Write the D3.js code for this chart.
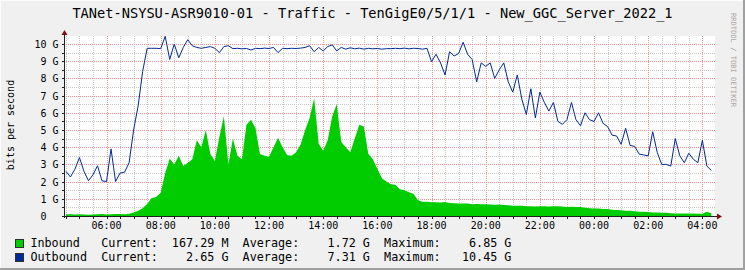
<!DOCTYPE html>
<html><head><meta charset="utf-8">
<script src="https://cdn.jsdelivr.net/npm/d3@7"></script>
<style>
html,body{margin:0;padding:0;background:#F0F0F0;}
svg{display:block;}
text{font-family:"DejaVu Sans Mono",monospace;}
.pre{white-space:pre;}
</style></head><body>
<svg id="c" width="745" height="270"></svg>
<script>
const title = "TANet-NSYSU-ASR9010-01 - Traffic - TenGigE0/5/1/1 - New_GGC_Server_2022_1";
const yAxisLabel = "bits per second";
const watermark = "RRDTOOL / TOBI OETIKER";
const windowStart = new Date(2023, 0, 1, 4, 28);
const windowEnd = new Date(2023, 0, 2, 4, 28);
const sampleStart = new Date(2023, 0, 1, 4, 30);
const stepMinutes = 10;

// Gbit/s, one sample every 10 minutes from 04:30
const inbound = [
 0.08,0.12,0.09,0.1,0.08,0.07,0.08,0.1,0.12,0.09,0.1,0.11,0.12,0.1,0.13,
 0.2,0.3,0.45,0.7,1.05,1.1,1.35,
 2.5,3.35,3.0,3.5,2.9,3.1,3.3,4.4,4.0,5.0,3.6,3.2,4.6,5.8,3.0,
 4.5,3.5,3.3,5.3,5.6,5.1,3.6,3.5,3.45,4.0,4.55,4.0,3.55,3.5,3.7,4.15,5.0,5.7,6.85,4.2,3.8,4.4,5.8,6.5,4.3,4.0,3.7,4.5,5.3,5.2,3.6,3.3,2.75,2.2,2.0,1.85,
 1.82,1.55,1.5,1.38,1.3,0.92,0.83,0.83,0.8,0.8,0.78,0.82,0.76,0.74,0.72,0.73,0.72,0.69,0.7,0.68,0.69,0.67,0.66,0.67,0.64,0.63,0.6,0.6,0.59,0.56,0.57,0.55,0.56,0.57,0.55,0.56,
 0.56,0.55,0.52,0.54,0.53,0.52,0.48,0.45,0.44,0.43,0.41,0.41,0.36,0.35,0.33,0.31,0.3,0.27,0.25,0.25,0.23,0.21,0.2,0.19,0.19,0.16,0.15,0.15,0.15,0.15,0.15,0.13,0.13,0.25,0.167
];
const outbound = [
 2.6,2.27,2.72,3.4,2.6,2.05,2.4,2.92,2.05,2.0,3.9,2.0,2.5,2.55,3.1,5.0,6.4,8.4,9.75,9.75,
 9.75,9.73,10.45,9.1,10.0,9.2,9.8,10.25,9.9,9.8,9.75,9.8,9.85,9.75,9.5,9.85,9.9,
 9.73,9.75,9.72,9.74,9.65,9.75,9.73,9.76,9.74,9.8,9.5,9.75,9.73,9.75,9.74,9.76,9.8,9.9,9.55,9.8,
 9.6,9.85,9.95,9.6,9.8,9.7,9.78,9.72,9.76,9.7,9.75,9.72,9.74,9.7,9.73,9.73,
 9.75,9.73,9.76,9.72,9.75,9.74,9.7,9.75,8.97,9.4,8.9,8.2,9.55,9.3,9.45,10.1,9.4,9.1,7.8,8.9,
 8.7,8.9,8.0,8.5,8.9,7.8,7.2,8.2,6.8,5.9,7.4,5.7,7.2,6.6,6.1,6.6,
 5.5,5.33,5.6,6.6,5.6,5.25,6.0,5.6,5.5,6.0,5.39,5.2,4.7,4.65,4.17,5.1,4.1,4.05,3.6,3.55,
 3.5,4.9,3.7,3.0,3.0,2.9,4.5,3.5,3.1,3.65,3.3,3.1,4.4,2.9,2.65
];

const yTickValues = [0,1,2,3,4,5,6,7,8,9,10];
const yTickLabels = ["0  ","1 G","2 G","3 G","4 G","5 G","6 G","7 G","8 G","9 G","10 G"];
const legendNames = ["Inbound","Outbound"];
const legendColors = ["#00CC00","#002A97"];
const legendCurrent = ["167.29 M","2.65 G"];
const legendAverage = ["1.72 G","7.31 G"];
const legendMaximum = ["6.85 G","10.45 G"];

(function () {
const svg = d3.select("#c");
const W = 745, H = 270;
const pL = 65, pR = 715, pT = 36, pB = 216;

const x = d3.scaleTime().domain([windowStart, windowEnd]).range([pL, pR]);
const y = d3.scaleLinear().domain([0, 10]).range([pB, 44]);

const times = inbound.map((_, i) => d3.timeMinute.offset(sampleStart, i * stepMinutes));

// dotted patterns (pixel exact)
const minorColor = "#C8C8C8", majorColor = "#F09090";
const defs = svg.append("defs");
[["hMinor", 2, 1, minorColor], ["hMajor", 2, 1, majorColor], ["vMinor", 1, 2, minorColor], ["vMajor", 1, 2, majorColor]]
  .forEach(([id, w, h, c]) => {
    defs.append("pattern").attr("id", id).attr("patternUnits", "userSpaceOnUse")
      .attr("x", 0).attr("y", 0).attr("width", w).attr("height", h)
      .append("rect").attr("width", 1).attr("height", 1).attr("fill", c);
  });

// background + frame
svg.append("rect").attr("width", W).attr("height", H).attr("fill", "#F0F0F0");
svg.append("rect").attr("x", 0).attr("y", 0).attr("width", W).attr("height", 1).attr("fill", "#FCFCFC");
svg.append("rect").attr("x", 0).attr("y", 0).attr("width", 1).attr("height", H).attr("fill", "#FCFCFC");
svg.append("rect").attr("x", 0).attr("y", H - 2).attr("width", W).attr("height", 2).attr("fill", "#A0A0A0");
svg.append("rect").attr("x", W - 2).attr("y", 0).attr("width", 2).attr("height", H).attr("fill", "#A0A0A0");

// plot canvas
svg.append("rect").attr("x", pL).attr("y", pT).attr("width", pR - pL).attr("height", pB - pT).attr("fill", "#FFFFFF");

const pr = v => Math.round(v);
const grid = svg.append("g").attr("shape-rendering", "crispEdges");

const minorX = d3.timeMinute.every(30).range(windowStart, windowEnd);
const majorX = d3.timeHour.every(2).range(windowStart, windowEnd);
const minorY = d3.range(1, 21).map(k => k * 0.5);

grid.selectAll("rect.mvx").data(minorX).join("rect")
  .attr("x", d => pr(x(d))).attr("y", pT).attr("width", 1).attr("height", pB - pT)
  .attr("fill", "url(#vMinor)");
grid.selectAll("rect.mhy").data(minorY).join("rect")
  .attr("x", pL).attr("y", d => pr(y(d))).attr("width", pR - pL).attr("height", 1)
  .attr("fill", "url(#hMinor)");
grid.selectAll("rect.Mvx").data(majorX).join("rect")
  .attr("x", d => pr(x(d))).attr("y", pT).attr("width", 1).attr("height", pB - pT)
  .attr("fill", "url(#vMajor)");
grid.selectAll("rect.Mhy").data(yTickValues.filter(v => v > 0)).join("rect")
  .attr("x", pL).attr("y", d => pr(y(d))).attr("width", pR - pL).attr("height", 1)
  .attr("fill", "url(#hMajor)");

// data
const area = d3.area().x((d, i) => x(times[i])).y0(y(0)).y1(d => y(d));
svg.append("path").datum(inbound).attr("d", area).attr("fill", "#00CC00");
const line = d3.line().x((d, i) => x(times[i])).y(d => y(d));
svg.append("path").datum(outbound).attr("d", line).attr("fill", "none")
  .attr("stroke", "#002A97").attr("stroke-width", 1);

// axes
const axisColor = "#202020";
const ax = svg.append("g").attr("shape-rendering", "crispEdges");
ax.append("line").attr("x1", pL - 2).attr("x2", pR + 2).attr("y1", pB + 0.5).attr("y2", pB + 0.5).attr("stroke", axisColor);
ax.append("line").attr("x1", pL - 0.5).attr("x2", pL - 0.5).attr("y1", pB + 2).attr("y2", pT - 3).attr("stroke", axisColor);
ax.selectAll("line.tx").data(minorX).join("line")
  .attr("x1", d => pr(x(d)) + 0.5).attr("x2", d => pr(x(d)) + 0.5)
  .attr("y1", pB).attr("y2", pB + 3).attr("stroke", axisColor);
ax.selectAll("line.ty").data(minorY.concat([0])).join("line")
  .attr("x1", pL - 3).attr("x2", pL)
  .attr("y1", d => pr(y(d)) + 0.5).attr("y2", d => pr(y(d)) + 0.5).attr("stroke", axisColor);
// arrows
svg.append("path").attr("d", `M${pR + 2},${pB - 2.5}L${pR + 7},${pB + 0.5}L${pR + 2},${pB + 3.5}Z`).attr("fill", "#7F1010");
svg.append("path").attr("d", `M${pL - 3.5},${pT - 1}L${pL - 0.5},${pT - 6}L${pL + 2.5},${pT - 1}Z`).attr("fill", "#7F1010");

// y tick labels
svg.selectAll("text.yl").data(yTickValues).join("text")
  .attr("class", "pre")
  .attr("x", 58.5).attr("y", d => y(d) + 4)
  .attr("text-anchor", "end").attr("font-size", 10).attr("fill", "#000")
  .text((d, i) => yTickLabels[i]);

// x tick labels
svg.selectAll("text.xl").data(majorX).join("text")
  .attr("x", d => x(d)).attr("y", 229)
  .attr("text-anchor", "middle").attr("font-size", 10).attr("fill", "#000")
  .text(d => d3.timeFormat("%H:%M")(d));

// title
svg.append("text").attr("x", 372.5).attr("y", 18).attr("text-anchor", "middle")
  .attr("font-size", 13.66).attr("fill", "#000").text(title);

// y axis label
svg.append("text").attr("transform", "translate(14,125) rotate(-90)")
  .attr("text-anchor", "middle").attr("font-size", 10).attr("fill", "#000").text(yAxisLabel);

// watermark
svg.append("text").attr("transform", "translate(731,13) rotate(90)")
  .attr("font-size", 7.1).attr("fill", "#A8A8A8").text(watermark);

// legend
legendNames.forEach((name, i) => {
  const by = 247 + i * 14;
  svg.append("rect").attr("x", 15.5).attr("y", by - 7.5).attr("width", 8).attr("height", 8)
    .attr("fill", legendColors[i]).attr("stroke", "#303030").attr("stroke-width", 1);
  const s = name.padEnd(10) + "Current:" + legendCurrent[i].padStart(10) + "  " +
            "Average:" + legendAverage[i].padStart(10) + "  " +
            "Maximum:" + legendMaximum[i].padStart(10);
  svg.append("text").attr("class", "pre").attr("x", 30.4).attr("y", by)
    .attr("font-size", 11.75).attr("fill", "#000").text(s);
});
})();
</script>
</body></html>
